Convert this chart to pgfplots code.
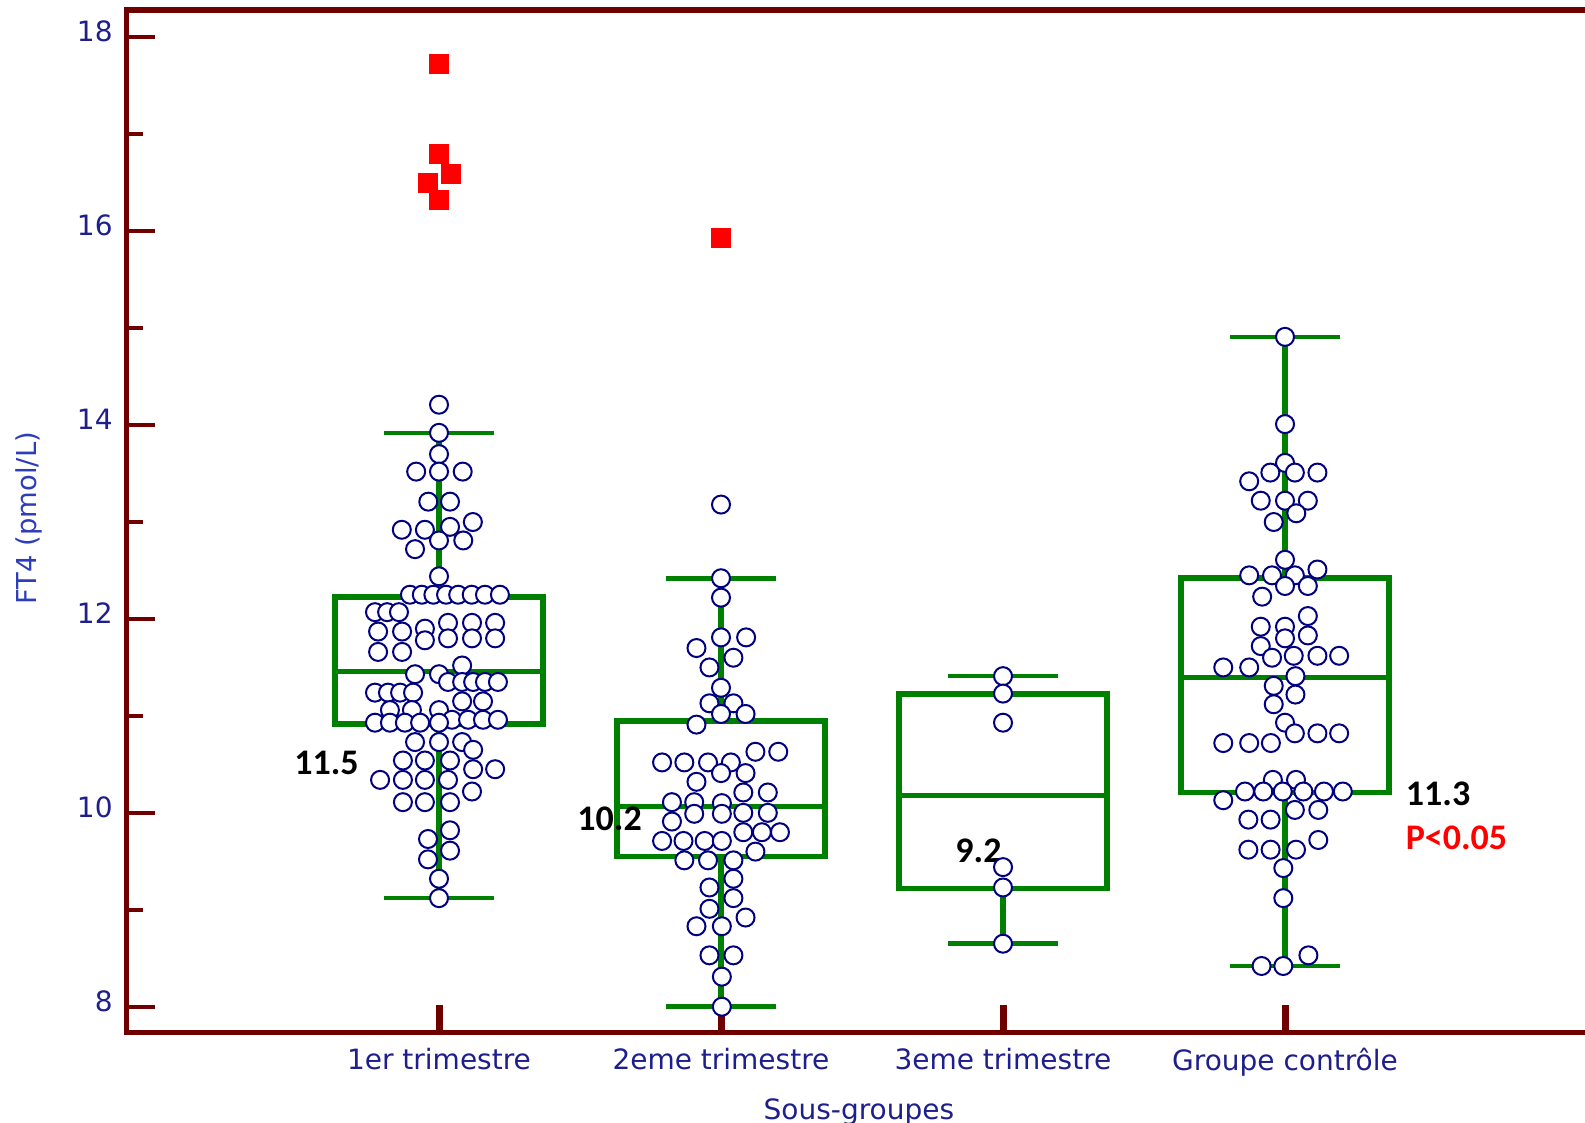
\documentclass[border=0pt]{standalone}
\usepackage{pgfplots}
\pgfplotsset{compat=1.18}
\usepackage{fontspec}
\setmainfont{DejaVu Sans}
\newfontfamily\annfont{Carlito}
\definecolor{axred}{RGB}{110,0,0}
\definecolor{boxgreen}{RGB}{0,128,0}
\definecolor{ptnavy}{RGB}{0,0,128}
\definecolor{lblblue}{RGB}{30,30,140}
\definecolor{ylblue}{RGB}{45,60,185}
\pgfplotsset{
  ptstyle/.style={only marks, mark=*, mark size=4.5pt, mark options={draw=ptnavy, fill=white, line width=1pt}},
  outstyle/.style={only marks, mark=square*, mark size=4.6pt, mark options={draw=red, fill=red, line width=0.8pt}},
  boxln/.style={draw=boxgreen, line width=2.9pt, mark=none, line join=miter},
  whisk/.style={draw=boxgreen, line width=3.2pt, mark=none},
  capln/.style={draw=boxgreen, line width=2.3pt, mark=none},
  medln/.style={draw=boxgreen, line width=2.5pt, mark=none},
}
\begin{document}
\begin{tikzpicture}
\begin{axis}[
  at={(0,0)}, anchor=south west,
  scale only axis, width=736.65pt, height=511.35pt,
  xmin=-1.1075, xmax=4.117,
  ymin=7.732, ymax=18.282,
  xtick={0,1,2,3},
  xticklabels={1er trimestre,2eme trimestre,3eme trimestre,Groupe contrôle},
  ytick={8,10,12,14,16,18},
  minor ytick={9,11,13,15,17},
  xtick pos=left, ytick pos=left,
  tick align=inside,
  major tick length=14pt, minor tick length=8pt,
  tick style={draw=axred, line width=2pt},
  xtick style={line width=3.5pt},
  axis line style={draw=axred, line width=2.8pt},
  /pgf/number format/assume math mode=true,
  xticklabel style={font=\fontsize{14}{16}\selectfont, text=lblblue, anchor=north, inner sep=0pt, yshift=-7.65pt},
  yticklabel style={font=\fontsize{14}{16}\selectfont, text=lblblue, anchor=east, inner sep=0pt, xshift=-6.85pt, yshift=2.8pt},
  xlabel={Sous-groupes},
  xlabel style={at={(axis description cs:0.497,-0.0639)}, anchor=north, inner sep=0pt, font=\fontsize{14}{16}\selectfont, text=lblblue},
  ylabel={FT4 (pmol/L)},
  ylabel style={at={(axis description cs:-0.0758,0.503)}, anchor=north, inner sep=0pt, font=\fontsize{13.7}{16}\selectfont, text=ylblue},
]
% ---- box plots: box (Q1..Q3), median, whiskers, caps ----
% 1er trimestre: 9.12, 10.92, 11.46, 12.23, 13.92
\addplot[boxln] coordinates {(0,12.23) (0.37,12.23) (0.37,10.92) (-0.37,10.92) (-0.37,12.23) (0,12.23)};
\addplot[medln] coordinates {(-0.37,11.46) (0.37,11.46)};
\addplot[whisk] coordinates {(0,12.23) (0,13.92)};
\addplot[whisk] coordinates {(0,10.92) (0,9.12)};
\addplot[capln] coordinates {(-0.195,13.92) (0.195,13.92)};
\addplot[capln] coordinates {(-0.195,9.12) (0.195,9.12)};
% 2eme trimestre: 8.00, 9.55, 10.07, 10.95, 12.42
\addplot[boxln] coordinates {(1,10.95) (1.37,10.95) (1.37,9.55) (0.63,9.55) (0.63,10.95) (1,10.95)};
\addplot[medln] coordinates {(0.63,10.07) (1.37,10.07)};
\addplot[whisk] coordinates {(1,10.95) (1,12.42)};
\addplot[whisk] coordinates {(1,9.55) (1,8.00)};
\addplot[capln] coordinates {(0.805,12.42) (1.195,12.42)};
\addplot[capln] coordinates {(0.805,8.00) (1.195,8.00)};
% 3eme trimestre: 8.65, 9.22, 10.18, 11.23, 11.41
\addplot[boxln] coordinates {(2,11.23) (2.37,11.23) (2.37,9.22) (1.63,9.22) (1.63,11.23) (2,11.23)};
\addplot[medln] coordinates {(1.63,10.18) (2.37,10.18)};
\addplot[whisk] coordinates {(2,11.23) (2,11.41)};
\addplot[whisk] coordinates {(2,9.22) (2,8.65)};
\addplot[capln] coordinates {(1.805,11.41) (2.195,11.41)};
\addplot[capln] coordinates {(1.805,8.65) (2.195,8.65)};
% Groupe controle: 8.42, 10.21, 11.40, 12.42, 14.91
\addplot[boxln] coordinates {(3,12.42) (3.37,12.42) (3.37,10.21) (2.63,10.21) (2.63,12.42) (3,12.42)};
\addplot[medln] coordinates {(2.63,11.40) (3.37,11.40)};
\addplot[whisk] coordinates {(3,12.42) (3,14.91)};
\addplot[whisk] coordinates {(3,10.21) (3,8.42)};
\addplot[capln] coordinates {(2.805,14.91) (3.195,14.91)};
\addplot[capln] coordinates {(2.805,8.42) (3.195,8.42)};
% group 1
\addplot[ptstyle] table {
x y
0 14.21
0 13.92
0 13.70
-0.081 13.52
0 13.52
0.084 13.52
-0.038 13.21
0.039 13.21
-0.132 12.92
-0.050 12.92
0.039 12.95
0.120 13.00
0 12.81
0.086 12.81
-0.085 12.72
0 12.44
-0.103 12.25
-0.061 12.25
-0.020 12.25
0.025 12.25
0.068 12.25
0.116 12.25
0.163 12.25
0.216 12.25
-0.227 12.07
-0.184 12.07
-0.142 12.07
-0.216 11.87
-0.216 11.66
-0.131 11.87
-0.131 11.66
-0.050 11.90
-0.050 11.78
0.032 11.96
0.032 11.80
0.117 11.96
0.117 11.80
0.199 11.96
0.199 11.80
0.082 11.52
-0.085 11.43
0 11.43
0.032 11.35
0.082 11.35
0.121 11.35
0.163 11.35
0.209 11.35
-0.227 11.24
-0.181 11.24
-0.138 11.24
-0.092 11.24
0.082 11.15
0.156 11.15
-0.174 11.06
-0.096 11.06
0 11.06
0.046 10.96
0.103 10.96
0.156 10.96
0.209 10.96
-0.227 10.93
-0.174 10.93
-0.121 10.93
-0.067 10.93
0 10.93
-0.085 10.73
0 10.73
0.082 10.73
0.121 10.65
-0.128 10.54
-0.050 10.54
0.039 10.54
0.121 10.45
0.199 10.45
-0.209 10.34
-0.128 10.34
-0.050 10.34
0.032 10.34
0.117 10.22
-0.128 10.11
-0.050 10.11
0.039 10.11
0.039 9.82
-0.039 9.73
0.039 9.61
-0.039 9.52
0 9.32
0 9.12
};
% group 2
\addplot[ptstyle] table {
x y
1.000 13.18
1.000 12.42
1.000 12.22
1.000 11.81
1.089 11.81
0.913 11.70
1.044 11.60
0.959 11.50
1.000 11.29
0.959 11.13
1.044 11.13
1.000 11.02
1.087 11.02
0.913 10.91
0.791 10.52
0.870 10.52
0.954 10.52
1.035 10.52
1.122 10.63
1.203 10.63
1.000 10.41
1.087 10.41
0.913 10.32
1.079 10.21
1.166 10.21
0.826 10.11
0.905 10.11
1.003 10.10
0.905 9.99
1.003 9.99
1.079 10.00
1.166 10.00
0.826 9.91
1.079 9.80
1.145 9.80
1.209 9.80
0.791 9.71
0.867 9.71
0.942 9.71
1.003 9.71
1.122 9.60
0.870 9.51
0.954 9.51
1.044 9.51
1.044 9.32
0.959 9.23
1.044 9.12
0.959 9.01
1.087 8.92
0.913 8.83
1.003 8.83
0.959 8.53
1.044 8.53
1.003 8.31
1.003 8.00
};
% group 3
\addplot[ptstyle] table {
x y
2 11.41
2 11.23
2 10.93
2 9.44
2 9.23
2 8.65
};
% group 4
\addplot[ptstyle] table {
x y
3 14.91
3 14.01
3 13.61
2.948 13.51
3.035 13.51
3.115 13.51
2.873 13.42
2.914 13.22
3 13.22
3.081 13.22
3.040 13.09
2.960 13.00
3 12.61
2.873 12.45
2.954 12.45
3.035 12.45
3.115 12.51
3 12.34
3.081 12.34
2.919 12.23
3.081 12.03
2.914 11.92
3 11.92
3.081 11.83
2.914 11.72
3 11.80
2.954 11.60
3.031 11.62
3.115 11.62
3.192 11.62
2.781 11.50
2.873 11.50
3.037 11.41
2.960 11.31
3.037 11.22
2.960 11.12
3 10.93
3.035 10.82
3.115 10.82
3.192 10.82
2.781 10.72
2.873 10.72
2.950 10.72
2.957 10.34
3.039 10.34
2.858 10.22
2.923 10.22
2.992 10.22
3.065 10.22
3.138 10.22
3.205 10.22
2.781 10.13
3.035 10.03
3.118 10.03
2.870 9.93
2.949 9.93
3.118 9.72
2.870 9.62
2.949 9.62
3.039 9.62
2.994 9.43
2.994 9.12
3.083 8.53
2.917 8.42
2.994 8.42
};
% outliers
\addplot[outstyle] table {
x y
0 17.72
0 16.80
0.041 16.59
-0.040 16.50
0 16.32
1 15.93
};
\node[font=\annfont\bfseries\fontsize{18}{20}\selectfont, text=black] at (axis cs:-0.399,10.51) {11.5};
\node[font=\annfont\bfseries\fontsize{18}{20}\selectfont, text=black] at (axis cs:0.605,9.94) {10.2};
\node[font=\annfont\bfseries\fontsize{18}{20}\selectfont, text=black] at (axis cs:1.913,9.606) {9.2};
\node[font=\annfont\bfseries\fontsize{18}{20}\selectfont, text=black] at (axis cs:3.543,10.20) {11.3};
\node[font=\annfont\bfseries\fontsize{18}{20}\selectfont, text=red] at (axis cs:3.608,9.74) {P<0.05};
\end{axis}
\pgfresetboundingbox
\useasboundingbox (-63.35pt,-45.15pt) rectangle (729.15pt,516.35pt);
\end{tikzpicture}
\end{document}
